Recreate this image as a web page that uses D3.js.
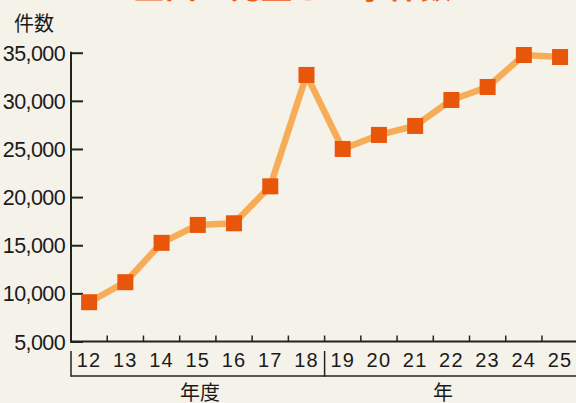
<!DOCTYPE html>
<html><head><meta charset="utf-8">
<script src="https://cdn.jsdelivr.net/npm/d3@7"></script>
<style>
html,body{margin:0;padding:0;background:#F5F2EA;}
svg{display:block;}
</style></head>
<body>
<svg id="chart" width="576" height="403"></svg>
<script>
const categories = ["12","13","14","15","16","17","18","19","20","21","22","23","24","25"];
const values = [9080,11160,15250,17110,17280,21120,32690,25000,26460,27390,30090,31440,34760,34550];
const yTicks = [5000,10000,15000,20000,25000,30000,35000];
const groupLabels = ["年度","年"];
const groupStarts = ["12","19"];
const titleText = "全国で発生した事件数";
const yTitle = "件数";

const svg = d3.select("#chart");
const W = 576, H = 403;
svg.append("rect").attr("width",W).attr("height",H).attr("fill","#F5F2EA");

const x = d3.scaleBand().domain(categories).range([71, 578.2]).padding(0);
const y = d3.scaleLinear().domain([5000,35000]).range([341.5, 52.7]);
const cx = c => x(c) + x.bandwidth()/2;
const axisColor = "#222";
const fontNum = "'Liberation Sans', Arial, Helvetica, sans-serif";
const fontCJK = "'Noto Sans CJK JP', sans-serif";

// title (cut off at top)
svg.append("text").attr("x",133).attr("y",-2.5)
  .attr("font-family",fontCJK).attr("font-weight","bold").attr("font-size",32)
  .attr("fill","#EE5A12").attr("textLength",319).attr("lengthAdjust","spacingAndGlyphs")
  .text(titleText);

// y title
svg.append("text").attr("x",14).attr("y",31)
  .attr("font-family",fontCJK).attr("font-size",20).attr("fill","#1a1a1a").text(yTitle);

// y axis
const yAxis = d3.axisRight(y).tickValues(yTicks).tickSize(12).tickFormat("");
const gy = svg.append("g").attr("transform","translate(71,0)").call(yAxis);
gy.select(".domain").remove();
gy.selectAll(".tick line").attr("stroke",axisColor).attr("stroke-width",2);
svg.append("line").attr("x1",71).attr("x2",71).attr("y1",y(35000)-1).attr("y2",y(5000)+1)
  .attr("stroke",axisColor).attr("stroke-width",2);
svg.selectAll(".ylab").data(yTicks).join("text").attr("class","ylab")
  .attr("x",65).attr("y",d=>y(d)+8).attr("text-anchor","end")
  .attr("font-family",fontNum).attr("font-size",21.5).attr("letter-spacing",-0.6)
  .attr("fill","#1a1a1a").text(d=>d3.format(",")(d));

// x axis
svg.append("line").attr("x1",70).attr("x2",W).attr("y1",y(5000)).attr("y2",y(5000))
  .attr("stroke",axisColor).attr("stroke-width",2);
const boundaries = categories.slice(1).map(c=>x(c)).concat([x(categories[categories.length-1])+x.bandwidth()]);
svg.selectAll(".xt").data(boundaries).join("line").attr("class","xt")
  .attr("x1",d=>d).attr("x2",d=>d).attr("y1",y(5000)).attr("y2",y(5000)-6)
  .attr("stroke",axisColor).attr("stroke-width",1.5);
svg.selectAll(".xlab").data(categories).join("text").attr("class","xlab")
  .attr("x",d=>cx(d)).attr("y",366.5).attr("text-anchor","middle")
  .attr("font-family",fontNum).attr("font-size",20).attr("letter-spacing",1.2)
  .attr("fill","#1a1a1a").text(d=>d);

// group brackets
svg.append("line").attr("x1",71).attr("x2",W).attr("y1",376).attr("y2",376)
  .attr("stroke",axisColor).attr("stroke-width",1.5);
groupStarts.forEach(g=>{
  svg.append("line").attr("x1",x(g)).attr("x2",x(g)).attr("y1",351).attr("y2",376.7)
    .attr("stroke",axisColor).attr("stroke-width",1.5);
});
const groupCenters = [200, 443];
groupLabels.forEach((g,i)=>{
  svg.append("text").attr("x",groupCenters[i]).attr("y",400).attr("text-anchor","middle")
    .attr("font-family",fontCJK).attr("font-size",20).attr("fill","#1a1a1a").text(g);
});

// line
const line = d3.line().x((d,i)=>cx(categories[i])).y(d=>y(d));
svg.append("path").datum(values).attr("d",line).attr("fill","none")
  .attr("stroke","#F7AC58").attr("stroke-width",6.5).attr("stroke-linejoin","round");

// markers
const ms = 16;
svg.selectAll(".mk").data(values).join("rect").attr("class","mk")
  .attr("x",(d,i)=>cx(categories[i])-ms/2).attr("y",d=>y(d)-ms/2)
  .attr("width",ms).attr("height",ms).attr("fill","#E8560A");
</script>
</body></html>
